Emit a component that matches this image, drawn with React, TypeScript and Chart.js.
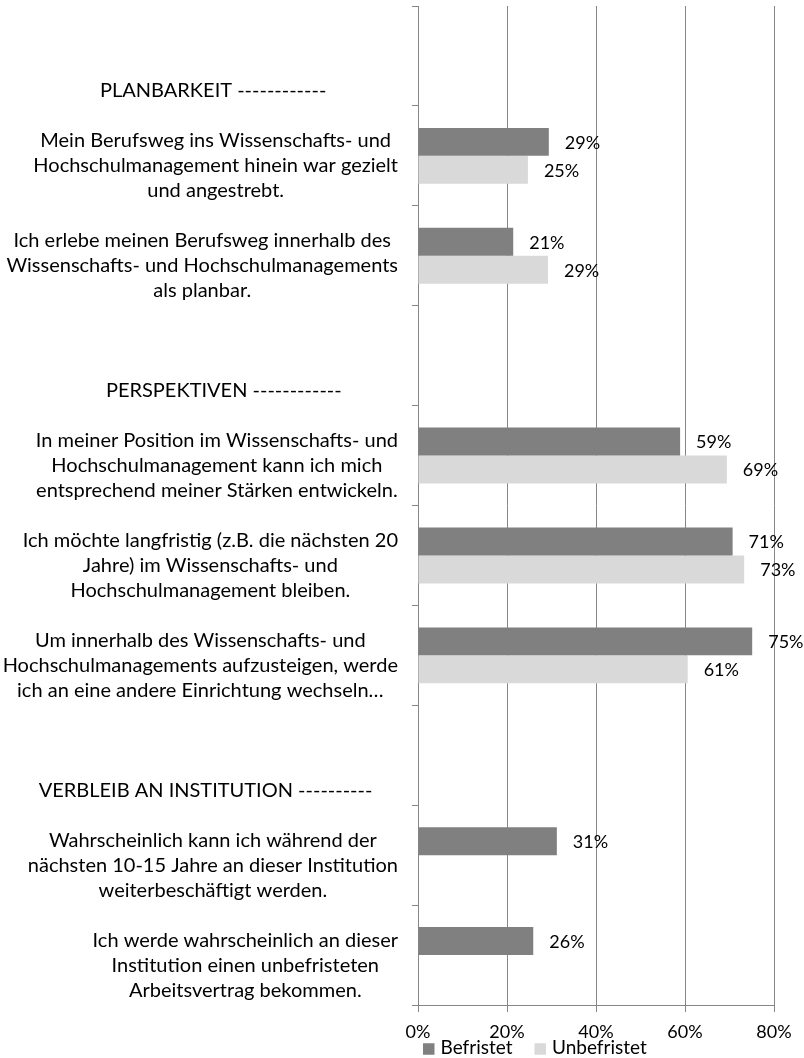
import React, { useEffect, useRef } from "react";
import { Chart, registerables } from "chart.js";

Chart.register(...registerables);

// ---------- DATA ----------
const categoryLabels: string[][] = [
  ["", "", "PLANBARKEIT ------------              "],
  ["Mein Berufsweg ins Wissenschafts- und", "Hochschulmanagement hinein war gezielt", "und angestrebt."],
  ["Ich erlebe meinen Berufsweg innerhalb des", "Wissenschafts- und Hochschulmanagements", "als planbar."],
  ["", "", "PERSPEKTIVEN ------------           "],
  ["In meiner Position im Wissenschafts- und", "Hochschulmanagement kann ich mich", "entsprechend meiner Stärken entwickeln."],
  ["Ich möchte langfristig (z.B. die nächsten 20", "Jahre) im Wissenschafts- und", "Hochschulmanagement bleiben."],
  ["Um innerhalb des Wissenschafts- und", "Hochschulmanagements aufzusteigen, werde", "ich an eine andere Einrichtung wechseln…"],
  ["", "", "VERBLEIB AN INSTITUTION ----------     "],
  ["Wahrscheinlich kann ich während der", "nächsten 10-15 Jahre an dieser Institution", "weiterbeschäftigt werden."],
  ["Ich werde wahrscheinlich an dieser", "Institution einen unbefristeten", "Arbeitsvertrag bekommen."],
];

const seriesNames: string[] = ["Befristet", "Unbefristet"];
const befristet: (number | null)[] = [null, 29.4, 21.4, null, 58.9, 70.7, 75.1, null, 31.2, 25.9];
const unbefristet: (number | null)[] = [null, 24.7, 29.2, null, 69.4, 73.3, 60.6, null, null, null];
const xTickValues: number[] = [0, 20, 40, 60, 80];

// ---------- STYLE ----------
const FONT = "Lato, 'Open Sans', sans-serif";
const LABEL_SIZE = 20;
const VALUE_SIZE = 18;
const TICK_SIZE = 18;
const LEGEND_SIZE = 19;
const GRID = "#868686";
const COLORS = ["#808080", "#d9d9d9"];

const categoryLabelPlugin = {
  id: "categoryLabels",
  afterDraw(chart: any) {
    const ctx = chart.ctx;
    const yScale = chart.scales.y;
    ctx.save();
    ctx.font = `${LABEL_SIZE}px ${FONT}`;
    ctx.fillStyle = "#000";
    ctx.textAlign = "center";
    ctx.textBaseline = "middle";
    const right = chart.chartArea.left - 20;
    const lineH = 25;
    categoryLabels.forEach((lines, i) => {
      const cy = yScale.getPixelForValue(i) + 10;
      const w = Math.max(...lines.map((l) => ctx.measureText(l).width));
      const cx = right - w / 2;
      lines.forEach((l, j) => {
        const trimmed = l.trimEnd();
        const trail = ctx.measureText(l).width - ctx.measureText(trimmed).width;
        ctx.fillText(trimmed, cx - trail / 2, cy + (j - (lines.length - 1) / 2) * lineH);
      });
    });
    ctx.restore();
  },
};

const valueLabelPlugin = {
  id: "valueLabels",
  afterDatasetsDraw(chart: any) {
    const ctx = chart.ctx;
    ctx.save();
    ctx.font = `${VALUE_SIZE}px ${FONT}`;
    ctx.fillStyle = "#000";
    ctx.textAlign = "left";
    ctx.textBaseline = "middle";
    chart.data.datasets.forEach((ds: any, di: number) => {
      const meta = chart.getDatasetMeta(di);
      meta.data.forEach((el: any, i: number) => {
        const v = ds.data[i];
        if (v === null || v === undefined) return;
        ctx.fillText(`${Math.round(v)}%`, el.x + 16, el.y + 1);
      });
    });
    ctx.restore();
  },
};

const legendPlugin = {
  id: "customLegend",
  afterDraw(chart: any) {
    const ctx = chart.ctx;
    ctx.save();
    ctx.font = `${LEGEND_SIZE}px ${FONT}`;
    ctx.textAlign = "left";
    ctx.textBaseline = "middle";
    let x = chart.chartArea.left + 5;
    const yMid = chart.height - 10;
    const box = 11.5;
    chart.data.datasets.forEach((ds: any) => {
      ctx.fillStyle = ds.backgroundColor;
      ctx.fillRect(x, yMid - box / 2 + 1, box, box);
      x += box + 6;
      ctx.fillStyle = "#000";
      ctx.fillText(ds.label, x, yMid);
      x += ctx.measureText(ds.label).width + 22;
    });
    ctx.restore();
  },
};

export default function App() {
  const canvasRef = useRef<HTMLCanvasElement | null>(null);

  useEffect(() => {
    if (!canvasRef.current) return;
    const chart = new Chart(canvasRef.current, {
      type: "bar",
      data: {
        labels: categoryLabels.map((l) => l.join(" ").trim()),
        datasets: [
          {
            label: seriesNames[0],
            data: befristet,
            backgroundColor: COLORS[0],
            categoryPercentage: 0.56,
            barPercentage: 1,
          },
          {
            label: seriesNames[1],
            data: unbefristet,
            backgroundColor: COLORS[1],
            categoryPercentage: 0.56,
            barPercentage: 1,
          },
        ],
      },
      options: {
        indexAxis: "y",
        responsive: false,
        animation: false,
        layout: { padding: { top: 6, right: 30, left: 0, bottom: 0 } },
        plugins: {
          legend: { display: false },
          tooltip: { enabled: false },
        },
        scales: {
          y: {
            type: "category",
            afterFit(scale: any) {
              scale.width = 418;
            },
            ticks: { display: false },
            grid: {
              offset: true,
              drawOnChartArea: false,
              drawTicks: true,
              tickLength: 6,
              color: GRID,
              lineWidth: 1,
            },
            border: { display: true, color: GRID, width: 1 },
          },
          x: {
            type: "linear",
            min: 0,
            max: 80,
            afterFit(scale: any) {
              scale.height = 53;
            },
            afterBuildTicks(scale: any) {
              scale.ticks = xTickValues.map((v) => ({ value: v }));
            },
            ticks: {
              callback: (v: any) => `${v}%`,
              color: "#000",
              font: { family: FONT, size: TICK_SIZE },
              padding: 9,
              maxRotation: 0,
            },
            grid: {
              color: GRID,
              lineWidth: 1,
              drawTicks: true,
              tickLength: 7,
            },
            border: { display: true, color: GRID, width: 1 },
          },
        },
      },
      plugins: [categoryLabelPlugin, valueLabelPlugin, legendPlugin],
    });
    return () => chart.destroy();
  }, []);

  return (
    <div style={{ position: "absolute", left: 0, top: 0, width: 804, height: 1058, background: "#fff" }}>
      <canvas ref={canvasRef} width={804} height={1058} style={{ display: "block" }} />
    </div>
  );
}
